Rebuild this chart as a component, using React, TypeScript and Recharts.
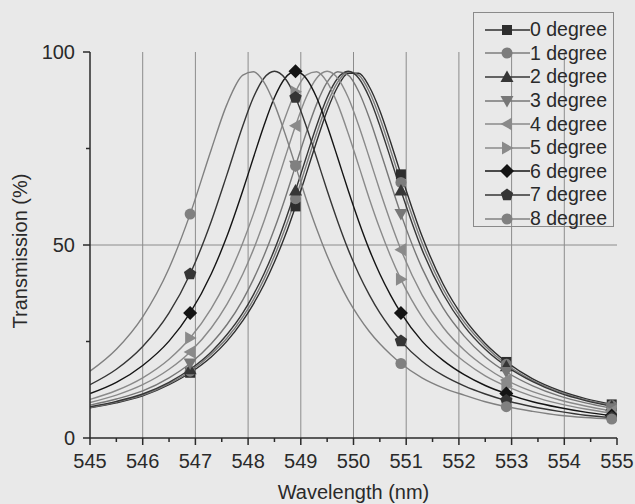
import { LineChart, Line, XAxis, YAxis, ReferenceLine, Legend } from 'recharts'

// wavelength samples (nm) shared by every angle
const wavelengths = [545, 545.5, 546, 546.5, 546.9, 547.3, 547.6, 547.9, 548.1, 548.3, 548.5, 548.7, 548.9, 549.1, 549.3, 549.5, 549.7, 549.9, 550.1, 550.3, 550.5, 550.7, 550.9, 551.3, 551.7, 552.1, 552.5, 552.9, 553.4, 553.9, 554.4, 554.9]

// transmission (%)
const deg0 = [7.8, 9.1, 10.9, 13.8, 16.9, 21.0, 25.1, 30.4, 34.7, 39.7, 45.6, 52.3, 60.0, 68.3, 76.8, 84.8, 91.0, 94.5, 94.5, 91.0, 84.8, 76.8, 68.3, 52.3, 39.9, 31.0, 24.5, 19.7, 15.3, 12.3, 10.2, 8.7]
const deg1 = [7.9, 9.3, 11.1, 14.1, 17.3, 21.7, 25.9, 31.4, 35.8, 41.1, 47.2, 54.2, 62.0, 70.5, 78.9, 86.5, 92.2, 94.9, 94.0, 89.7, 82.9, 74.7, 66.2, 50.6, 38.6, 30.0, 23.8, 19.1, 14.9, 12.0, 9.9, 8.4]
const deg2 = [8.1, 9.5, 11.4, 14.4, 17.8, 22.3, 26.8, 32.4, 37.1, 42.5, 48.8, 56.1, 64.1, 72.6, 80.9, 88.2, 93.2, 95.0, 93.2, 88.2, 80.9, 72.6, 64.1, 48.8, 37.3, 29.0, 23.0, 18.6, 14.6, 11.7, 9.7, 8.2]
const deg3 = [8.5, 10.1, 12.2, 15.6, 19.3, 24.4, 29.4, 35.8, 41.1, 47.2, 54.2, 62.0, 70.5, 78.9, 86.5, 92.2, 94.9, 94.0, 89.7, 82.9, 74.7, 66.2, 58.0, 44.0, 33.7, 26.4, 21.0, 17.1, 13.5, 10.9, 9.1, 7.7]
const deg4 = [9.2, 11.1, 13.8, 17.8, 22.3, 28.5, 34.7, 42.5, 48.8, 56.1, 64.1, 72.6, 80.9, 88.2, 93.2, 95.0, 93.2, 88.2, 80.9, 72.6, 64.1, 56.1, 48.8, 37.1, 28.7, 22.8, 18.4, 15.0, 12.0, 9.9, 8.3, 7.0]
const deg5 = [10.0, 12.3, 15.6, 20.4, 25.9, 33.5, 41.1, 50.6, 58.0, 66.2, 74.7, 82.9, 89.7, 94.0, 94.9, 92.2, 86.5, 78.9, 70.5, 62.0, 54.2, 47.2, 41.1, 31.4, 24.6, 19.8, 16.1, 13.4, 10.8, 8.9, 7.5, 6.4]
const deg6 = [11.5, 14.4, 18.8, 25.1, 32.4, 42.5, 52.3, 64.1, 72.6, 80.9, 88.2, 93.2, 95.0, 93.2, 88.2, 80.9, 72.6, 64.1, 56.1, 48.8, 42.5, 37.1, 32.4, 25.1, 20.1, 16.4, 13.6, 11.5, 9.4, 7.9, 6.7, 5.8]
const deg7 = [13.8, 17.8, 23.7, 32.4, 42.5, 56.1, 68.3, 80.9, 88.2, 93.2, 95.0, 93.2, 88.2, 80.9, 72.6, 64.1, 56.1, 48.8, 42.5, 37.1, 32.4, 28.5, 25.1, 19.9, 16.2, 13.5, 11.4, 9.7, 8.1, 6.9, 5.9, 5.3]
const deg8 = [17.3, 23.0, 31.4, 44.0, 58.0, 74.7, 86.5, 94.0, 94.9, 92.2, 86.5, 78.9, 70.5, 62.0, 54.2, 47.2, 41.1, 35.8, 31.4, 27.6, 24.4, 21.7, 19.3, 15.6, 13.0, 11.1, 9.4, 8.1, 6.9, 5.9, 5.3, 4.9]

const seriesNames = ['0 degree', '1 degree', '2 degree', '3 degree', '4 degree', '5 degree', '6 degree', '7 degree', '8 degree']
const seriesValues = [deg0, deg1, deg2, deg3, deg4, deg5, deg6, deg7, deg8]

// wavelengths where the symbols sit
const markerAt = [546.9, 548.9, 550.9, 552.9, 554.9]

const xTicks = [545, 545.5, 546, 546.5, 547, 547.5, 548, 548.5, 549, 549.5, 550, 550.5, 551, 551.5, 552, 552.5, 553, 553.5, 554, 554.5, 555]
const yTicks = [0, 25, 50, 75, 100]
const gridX = [546, 547, 548, 549, 550, 551, 552, 553, 554]

const styles = [
  { color: '#2e2e2e', shape: 'square' },
  { color: '#7c7c7c', shape: 'circle' },
  { color: '#363636', shape: 'up' },
  { color: '#777777', shape: 'down' },
  { color: '#8a8a8a', shape: 'left' },
  { color: '#8a8a8a', shape: 'right' },
  { color: '#141414', shape: 'diamond' },
  { color: '#353535', shape: 'pentagon' },
  { color: '#808080', shape: 'circle' },
]

const data = wavelengths.map((w, i) => {
  const row: Record<string, number> = { w }
  seriesValues.forEach((vals, s) => {
    row['s' + s] = vals[i]
  })
  return row
})

const font = 'Liberation Sans, Arial, Helvetica, sans-serif'
const ink = '#2a2a2a'
const gridColor = '#8c8c8c'

function Marker({ shape, cx, cy, color }: { shape: string; cx: number; cy: number; color: string }) {
  const p = (pts: number[][]) => pts.map(q => q.join(',')).join(' ')
  switch (shape) {
    case 'square':
      return <rect x={cx - 5} y={cy - 5} width={10} height={10} fill={color} />
    case 'circle':
      return <circle cx={cx} cy={cy} r={5.5} fill={color} />
    case 'up':
      return <polygon points={p([[cx, cy - 6.5], [cx + 6.5, cy + 5], [cx - 6.5, cy + 5]])} fill={color} />
    case 'down':
      return <polygon points={p([[cx - 6.5, cy - 5], [cx + 6.5, cy - 5], [cx, cy + 6.5]])} fill={color} />
    case 'left':
      return <polygon points={p([[cx - 6.5, cy], [cx + 5, cy - 6.5], [cx + 5, cy + 6.5]])} fill={color} />
    case 'right':
      return <polygon points={p([[cx + 6.5, cy], [cx - 5, cy - 6.5], [cx - 5, cy + 6.5]])} fill={color} />
    case 'diamond':
      return <polygon points={p([[cx, cy - 7], [cx + 7, cy], [cx, cy + 7], [cx - 7, cy]])} fill={color} />
    default: {
      const pts = [0, 1, 2, 3, 4].map(k => {
        const a = -Math.PI / 2 + (k * 2 * Math.PI) / 5
        return [cx + 6.5 * Math.cos(a), cy + 6.5 * Math.sin(a)]
      })
      return <polygon points={p(pts)} fill={color} />
    }
  }
}

const makeDot = (s: number) => (props: any) => {
  const { cx, cy, payload, index } = props
  if (!markerAt.includes(payload.w)) return <g key={`d${s}-${index}`} />
  return (
    <g key={`d${s}-${index}`}>
      <Marker shape={styles[s].shape} cx={cx} cy={cy} color={styles[s].color} />
    </g>
  )
}

function XTick({ x, y, payload }: any) {
  const major = Number.isInteger(payload.value)
  return (
    <g>
      <line x1={x} x2={x} y1={y} y2={y + (major ? 7 : 4)} stroke={ink} strokeWidth={1.5} />
      {major && (
        <text x={x} y={y + 30} textAnchor="middle" fontFamily={font} fontSize={20} fill={ink}>
          {payload.value}
        </text>
      )}
    </g>
  )
}

function YTick({ x, y, payload }: any) {
  const major = payload.value % 50 === 0
  return (
    <g>
      <line x1={x - (major ? 7 : 4)} x2={x} y1={y} y2={y} stroke={ink} strokeWidth={1.5} />
      {major && (
        <text x={x - 15} y={y + 7} textAnchor="end" fontFamily={font} fontSize={20} fill={ink}>
          {payload.value}
        </text>
      )}
    </g>
  )
}

function YTitle({ viewBox }: any) {
  const cx = 20
  const cy = viewBox ? viewBox.y + viewBox.height / 2 + 6 : 251
  return (
    <text
      x={cx}
      y={cy}
      transform={`rotate(-90 ${cx} ${cy})`}
      textAnchor="middle"
      dominantBaseline="central"
      fontFamily={font}
      fontSize={20}
      fill={ink}
    >
      Transmission (%)
    </text>
  )
}

function LegendBox() {
  return (
    <div
      style={{
        boxSizing: 'border-box',
        width: 141,
        height: 215,
        border: '1px solid #8a8a8a',
        paddingTop: 5,
        paddingLeft: 11,
        fontFamily: font,
        fontSize: 19.5,
        color: ink,
      }}
    >
      {seriesNames.map((name, s) => (
        <div key={name} style={{ display: 'flex', alignItems: 'center', height: 23.6, whiteSpace: 'nowrap' }}>
          <svg width={45} height={20} style={{ flex: 'none' }}>
            <line x1={0} x2={45} y1={10} y2={10} stroke={styles[s].color} strokeWidth={1.5} />
            <Marker shape={styles[s].shape} cx={22} cy={10} color={styles[s].color} />
          </svg>
          <span>{name}</span>
        </div>
      ))}
    </div>
  )
}

export default function App() {
  return (
    <div style={{ width: 635, height: 504, background: '#e9e9e9', position: 'relative' }}>
      <style>{'body{margin:0;background:#e9e9e9}'}</style>
      <LineChart width={635} height={504} data={data} margin={{ top: 52, right: 18, bottom: 6, left: 10 }}>
        <XAxis
          dataKey="w"
          type="number"
          domain={[545, 555]}
          ticks={xTicks}
          interval={0}
          tickSize={0}
          tickMargin={0}
          tick={<XTick />}
          height={60}
          axisLine={{ stroke: ink, strokeWidth: 1.5 }}
          tickLine={false}
          allowDataOverflow
          label={{ value: 'Wavelength (nm)', position: 'insideBottom', offset: -1, fontFamily: font, fontSize: 20, fill: ink }}
        />
        <YAxis
          type="number"
          domain={[0, 100]}
          ticks={yTicks}
          interval={0}
          tickSize={0}
          tickMargin={0}
          tick={<YTick />}
          width={80}
          axisLine={{ stroke: ink, strokeWidth: 1.5 }}
          tickLine={false}
          allowDataOverflow
          label={{ content: (props: any) => <YTitle {...props} /> }}
        />
        {gridX.map(v => (
          <ReferenceLine key={v} x={v} stroke={gridColor} strokeWidth={1} />
        ))}
        <ReferenceLine y={50} stroke={gridColor} strokeWidth={1} />
        {seriesValues.map((_, s) => (
          <Line
            key={s}
            type="monotone"
            dataKey={'s' + s}
            name={seriesNames[s]}
            stroke={styles[s].color}
            strokeWidth={1.4}
            dot={makeDot(s)}
            activeDot={false}
            isAnimationActive={false}
          />
        ))}
        <Legend
          layout="vertical"
          align="center"
          verticalAlign="middle"
          wrapperStyle={{ left: 473, top: 12, right: 'auto', bottom: 'auto', width: 141, height: 215 }}
          content={() => <LegendBox />}
        />
      </LineChart>
    </div>
  )
}
